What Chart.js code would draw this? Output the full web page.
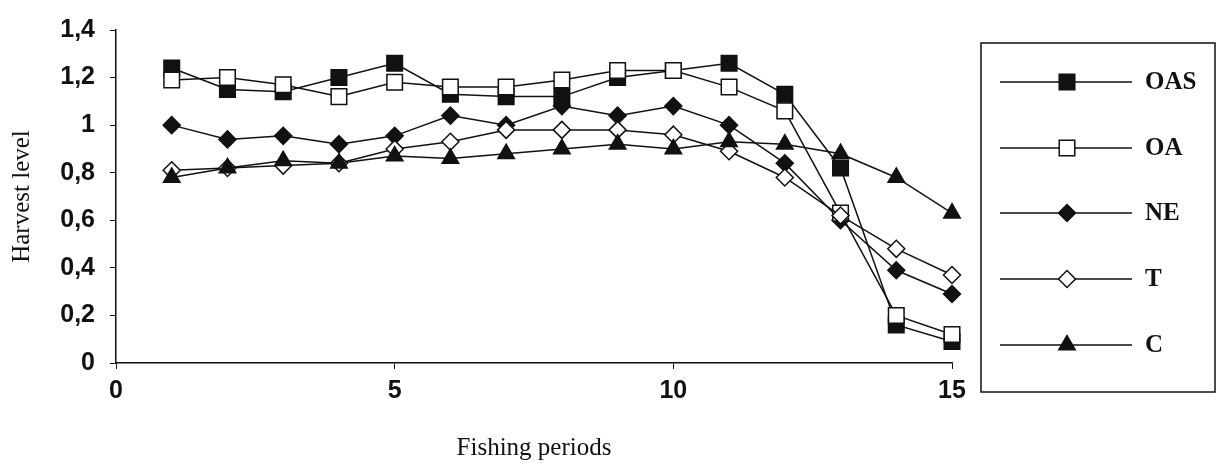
<!DOCTYPE html>
<html>
<head>
<meta charset="utf-8">
<script src="https://cdn.jsdelivr.net/npm/chart.js@4/dist/chart.umd.min.js"></script>
<style>
  html, body { margin: 0; padding: 0; background: #fff; }
  #wrap { width: 1217px; height: 468px; position: relative; }
</style>
</head>
<body>
<div id="wrap"><canvas id="c" width="1217" height="468"></canvas></div>
<script>
const periods = [1,2,3,4,5,6,7,8,9,10,11,12,13,14,15];
const seriesNames = ['OAS','OA','NE','T','C'];
const OAS = [1.24,1.15,1.14,1.20,1.26,1.13,1.12,1.12,1.20,1.23,1.26,1.13,0.82,0.16,0.09];
const OA  = [1.19,1.20,1.17,1.12,1.18,1.16,1.16,1.19,1.23,1.23,1.16,1.06,0.63,0.20,0.12];
const NE  = [1.00,0.94,0.955,0.92,0.955,1.04,1.00,1.08,1.04,1.08,1.00,0.84,0.60,0.39,0.29];
const T   = [0.81,0.82,0.83,0.84,0.90,0.93,0.98,0.98,0.98,0.96,0.89,0.78,0.62,0.48,0.37];
const C   = [0.78,0.82,0.85,0.84,0.87,0.86,0.88,0.90,0.92,0.90,0.93,0.92,0.88,0.78,0.63];
const yTicks = [0,0.2,0.4,0.6,0.8,1,1.2,1.4];
const xTicks = [0,5,10,15];
const xTitle = 'Fishing periods';
const yTitle = 'Harvest level';

const INK = '#111';
const styles = {
  OAS: {shape:'rect', fill:INK, r:11, order:5},
  OA:  {shape:'rect', fill:'#fff', r:11, order:3},
  NE:  {shape:'rectRot', fill:INK, r:8.5, order:4},
  T:   {shape:'rectRot', fill:'#fff', r:8.5, order:2},
  C:   {shape:'triangle', fill:INK, r:9.5, order:1}
};
const values = {OAS, OA, NE, T, C};

const datasets = seriesNames.map(n => ({
  label: n,
  data: periods.map((p, i) => ({x: p, y: values[n][i]})),
  borderColor: INK,
  borderWidth: 1.5,
  pointStyle: styles[n].shape,
  pointRadius: styles[n].r,
  pointHoverRadius: styles[n].r,
  pointBackgroundColor: styles[n].fill,
  pointBorderColor: INK,
  pointBorderWidth: 1.5,
  order: styles[n].order,
  clip: false,
  tension: 0,
  fill: false
}));

function drawMarker(ctx, shape, x, y, r, fill) {
  ctx.save();
  ctx.beginPath();
  if (shape === 'rect') {
    const s = Math.SQRT1_2 * r;
    ctx.rect(x - s, y - s, 2 * s, 2 * s);
  } else if (shape === 'rectRot') {
    ctx.moveTo(x, y - r); ctx.lineTo(x + r, y); ctx.lineTo(x, y + r); ctx.lineTo(x - r, y); ctx.closePath();
  } else {
    const a = Math.PI * 2 / 3;
    ctx.moveTo(x, y - r);
    ctx.lineTo(x + Math.sin(a) * r, y - Math.cos(a) * r);
    ctx.lineTo(x + Math.sin(2 * a) * r, y - Math.cos(2 * a) * r);
    ctx.closePath();
  }
  ctx.fillStyle = fill; ctx.fill();
  ctx.lineWidth = 1.5; ctx.strokeStyle = INK; ctx.stroke();
  ctx.restore();
}

const legendPlugin = {
  id: 'boxLegend',
  afterDraw(chart) {
    const ctx = chart.ctx;
    ctx.save();
    ctx.strokeStyle = INK; ctx.lineWidth = 1.5;
    ctx.strokeRect(981, 43, 234, 349);
    const ys = [82, 148, 213, 279, 345];
    seriesNames.forEach((n, i) => {
      const y = ys[i];
      ctx.beginPath(); ctx.moveTo(1000, y); ctx.lineTo(1132, y);
      ctx.lineWidth = 1.5; ctx.strokeStyle = INK; ctx.stroke();
      drawMarker(ctx, styles[n].shape, 1067, y, styles[n].r, styles[n].fill);
      ctx.fillStyle = INK;
      ctx.font = 'bold 25px "Liberation Serif", "Times New Roman", serif';
      ctx.textAlign = 'left'; ctx.textBaseline = 'middle';
      ctx.fillText(n, 1145, y + 1);
    });
    ctx.restore();
  }
};

new Chart(document.getElementById('c'), {
  type: 'line',
  data: { datasets },
  plugins: [legendPlugin],
  options: {
    responsive: false,
    animation: false,
    events: [],
    layout: { padding: { left: 0, right: 265, top: 21, bottom: 5 } },
    plugins: { legend: { display: false }, tooltip: { enabled: false } },
    scales: {
      x: {
        type: 'linear', min: 0, max: 15,
        afterBuildTicks: s => { s.ticks = xTicks.map(v => ({value: v})); },
        afterFit: s => { s.height = 100; },
        border: { color: INK, width: 1.5 },
        grid: { drawOnChartArea: false, drawTicks: true, tickLength: 6, tickColor: INK },
        ticks: { color: INK, padding: 7, maxRotation: 0,
          font: { family: '"Liberation Sans", Arial, sans-serif', size: 25, weight: 'bold' } },
        title: { display: true, text: xTitle, color: INK, padding: { top: 0, bottom: 0 },
          font: { family: '"Liberation Serif", "Times New Roman", serif', size: 25 } }
      },
      y: {
        type: 'linear', min: 0, max: 1.4,
        afterBuildTicks: s => { s.ticks = yTicks.map(v => ({value: v})); },
        afterFit: s => { s.width = 116; },
        border: { color: INK, width: 1.5 },
        grid: { drawOnChartArea: false, drawTicks: true, tickLength: 6, tickColor: INK },
        ticks: { color: INK, padding: 15,
          callback: v => String(Math.round(v * 10) / 10).replace('.', ','),
          font: { family: '"Liberation Sans", Arial, sans-serif', size: 25, weight: 'bold' } },
        title: { display: true, text: yTitle, color: INK, padding: { top: 7, bottom: 0 },
          font: { family: '"Liberation Serif", "Times New Roman", serif', size: 25 } }
      }
    }
  }
});
</script>
</body>
</html>
